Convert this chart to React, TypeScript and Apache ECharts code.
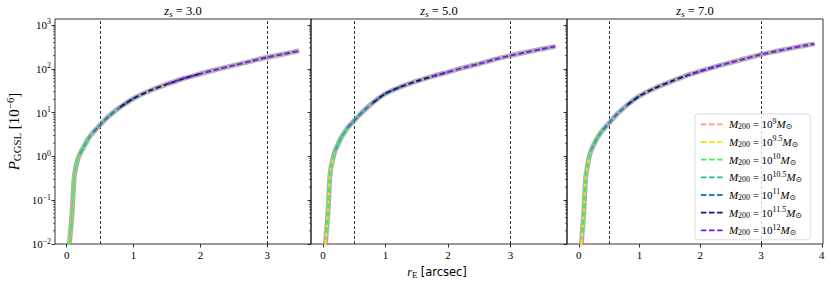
import React, { useEffect, useRef } from "react";
import * as echarts from "echarts";

// ---------- data ----------
const panelZs = ["3.0", "5.0", "7.0"];
const massExps = ["9", "9.5", "10", "10.5", "11", "11.5", "12"];
const massColors = ["#ff9a7a", "#ffe21a", "#33f54a", "#1fbf8c", "#2a7dbd", "#14147f", "#7e12ee"];

// P_GGSL [1e-6] vs r_E [arcsec]
const r1 = [0.04, 0.055, 0.065, 0.08, 0.09, 0.11, 0.13, 0.165, 0.2, 0.25, 0.3, 0.35, 0.4, 0.5, 0.6, 0.7, 0.8, 1.0, 1.25, 1.5, 1.75, 2.0, 2.25, 2.5, 2.75, 3.0, 3.25, 3.48];
const p1 = [0.0095, 0.018, 0.026, 0.05, 0.09, 0.3, 0.5, 0.85, 1.15, 1.6, 2.2, 2.9, 3.6, 5.2, 7.5, 10.2, 13.3, 21, 32, 44.5, 60, 77, 97, 120, 148, 183, 218, 258];
const r2 = [0.04, 0.055, 0.065, 0.08, 0.09, 0.11, 0.13, 0.165, 0.2, 0.25, 0.3, 0.35, 0.4, 0.5, 0.6, 0.7, 0.8, 1.0, 1.25, 1.5, 1.75, 2.0, 2.25, 2.5, 2.75, 3.0, 3.25, 3.5, 3.72];
const p2 = [0.0095, 0.018, 0.026, 0.05, 0.09, 0.32, 0.55, 0.95, 1.4, 2.0, 2.8, 3.6, 4.6, 6.5, 9.3, 12.7, 16.8, 27, 39, 52, 67, 84, 106, 130, 164, 200, 238, 282, 325];
const r3 = [0.04, 0.055, 0.065, 0.08, 0.09, 0.11, 0.13, 0.165, 0.2, 0.25, 0.3, 0.35, 0.4, 0.5, 0.6, 0.7, 0.8, 1.0, 1.25, 1.5, 1.75, 2.0, 2.25, 2.5, 2.75, 3.0, 3.25, 3.5, 3.75, 3.88];
const p3 = [0.0095, 0.018, 0.026, 0.05, 0.09, 0.3, 0.48, 0.9, 1.35, 1.9, 2.6, 3.3, 4.1, 5.8, 8.4, 11.4, 15, 24, 36, 50, 68, 88, 112, 139, 172, 212, 252, 297, 345, 370];

// r_E range covered by each halo-mass curve, per panel
const segStart1 = [0.04, 0.04, 0.04, 0.2, 0.4, 0.8, 1.5];
const segEnd1 = [0.09, 0.13, 0.35, 0.7, 1.0, 2.0, 3.48];
const segStart2 = [0.04, 0.04, 0.055, 0.2, 0.4, 0.8, 1.75];
const segEnd2 = [0.09, 0.165, 0.4, 0.7, 1.25, 2.0, 3.72];
const segStart3 = [0.04, 0.04, 0.055, 0.2, 0.4, 0.8, 1.75];
const segEnd3 = [0.09, 0.165, 0.4, 0.7, 1.0, 2.25, 3.88];

const xMins = [-0.175, -0.19, -0.195];
const xMaxs = [3.655, 3.905, 4.02];
const xTicks1 = [0, 1, 2, 3];
const xTicks2 = [0, 1, 2, 3];
const xTicks3 = [0, 1, 2, 3, 4];
const yTicks = [0.01, 0.1, 1, 10, 100, 1000];
const yMin = 0.01;
const yMax = 1370;
const minorMultipliers = [2, 3, 4, 5, 6, 7, 8, 9];
const refLines = [0.5, 3.0];

// ---------- layout ----------
const gridLefts = [55, 311, 567];
const gridWidth = 256;
const gridTop = 19;
const gridHeight = 225;

const serif = "'Liberation Serif', 'DejaVu Serif', serif";
const sans = "'DejaVu Sans', sans-serif";

export default function App() {
  const ref = useRef<HTMLDivElement>(null);

  useEffect(() => {
    if (!ref.current) return;
    const chart = echarts.init(ref.current, undefined, { renderer: "svg" });

    const panels = [
      { r: r1, p: p1, s: segStart1, e: segEnd1, ticks: xTicks1 },
      { r: r2, p: p2, s: segStart2, e: segEnd2, ticks: xTicks2 },
      { r: r3, p: p3, s: segStart3, e: segEnd3, ticks: xTicks3 },
    ];
    const massNames = massExps.map((m) => "M200=1e" + m);

    const minorVals: number[] = [];
    yTicks.forEach((d) => {
      minorMultipliers.forEach((m) => {
        const v = d * m;
        if (v > yMin && v < yMax) minorVals.push(v);
      });
    });

    const grids = panels.map((_, i) => ({
      left: gridLefts[i],
      top: gridTop,
      width: gridWidth,
      height: gridHeight,
      show: true,
      borderColor: "#000",
      borderWidth: 0.8,
      backgroundColor: "transparent",
    }));

    const xAxes = panels.map((pan, i) => ({
      type: "value",
      gridIndex: i,
      min: xMins[i],
      max: xMaxs[i],
      axisLine: { show: false, onZero: false },
      splitLine: { show: false },
      axisTick: { show: true, customValues: pan.ticks, length: 3.5, lineStyle: { color: "#000", width: 0.8 } },
      axisLabel: {
        show: true,
        customValues: pan.ticks,
        margin: 5,
        color: "#000",
        fontFamily: serif,
        fontSize: 11,
      },
    }));

    const yRich = {
      b: { fontFamily: serif, fontSize: 11, color: "#000" },
      sup: { fontFamily: serif, fontSize: 7.8, color: "#000", padding: [0, 0, 6, 0] },
    };
    const yAxes = panels.map((_, i) => ({
      type: "log",
      logBase: 10,
      gridIndex: i,
      min: yMin,
      max: yMax,
      axisLine: { show: false, onZero: false },
      splitLine: { show: false },
      minorTick: { show: false },
      axisTick: { show: true, customValues: yTicks, length: 3.5, lineStyle: { color: "#000", width: 0.8 } },
      axisLabel: {
        show: i === 0,
        customValues: yTicks,
        margin: 4,
        formatter: (v: number) => {
          const ex = Math.round(Math.log10(v));
          return "{b|10}{sup|" + String(ex).replace("-", "\u2212") + "}";
        },
        rich: yRich,
      },
    }));

    const series: any[] = [];
    panels.forEach((pan, i) => {
      const pts = pan.r.map((r, k) => [r, pan.p[k]]);
      series.push({
        type: "line",
        name: "fit" + i,
        xAxisIndex: i,
        yAxisIndex: i,
        data: pts,
        symbol: "none",
        smooth: 0.3,
        silent: true,
        z: 2,
        lineStyle: { color: "rgba(150,150,150,0.75)", width: 5 },
        markLine: {
          silent: true,
          symbol: ["none", "none"],
          label: { show: false },
          z: 1,
          lineStyle: { color: "#000", type: [3, 2], width: 0.8 },
          data: refLines.map((x) => ({ xAxis: x })),
        },
      });
      massNames.forEach((nm, j) => {
        series.push({
          type: "line",
          name: nm,
          xAxisIndex: i,
          yAxisIndex: i,
          data: pts.filter((d) => d[0] >= pan.s[j] && d[0] <= pan.e[j]),
          symbol: "none",
          smooth: 0.3,
          z: 3 + j,
          lineStyle: { color: massColors[j], width: 1.9, type: [5.5, 2.6] },
          itemStyle: { color: massColors[j] },
        });
      });
      // minor log ticks on the left spine
      const xm = xMins[i];
      series.push({
        type: "custom",
        xAxisIndex: i,
        yAxisIndex: i,
        silent: true,
        clip: false,
        z: 10,
        data: minorVals.map((v) => [xm, v]),
        renderItem: (params: any, api: any) => {
          const pt = api.coord([xm, api.value(1)]);
          return {
            type: "line",
            shape: { x1: pt[0] - 2, y1: pt[1], x2: pt[0], y2: pt[1] },
            style: { stroke: "#000", lineWidth: 0.6 },
          };
        },
      });
    });

    const mathRich = (size: number) => ({
      i: { fontFamily: serif, fontStyle: "italic", fontSize: size, color: "#000" },
      n: { fontFamily: serif, fontSize: size, color: "#000" },
      sub: { fontFamily: serif, fontSize: size * 0.72, color: "#000", padding: [size * 0.45, 0, 0, 0] },
      subi: { fontFamily: serif, fontStyle: "italic", fontSize: size * 0.72, color: "#000", padding: [size * 0.45, 0, 0, 0] },
      sup: { fontFamily: serif, fontSize: size * 0.72, color: "#000", padding: [0, 0, size * 0.6, 0] },
      sans: { fontFamily: sans, fontSize: size * 0.92, color: "#000" },
    });

    const graphic: any[] = [];
    panelZs.forEach((z, i) => {
      graphic.push({
        type: "text",
        x: gridLefts[i] + gridWidth / 2,
        y: 11,
        style: {
          text: "{i|z}{subi|s}{n| = " + z + "}",
          rich: mathRich(12.5),
          align: "center",
          verticalAlign: "middle",
          textAlign: "center",
          textVerticalAlign: "middle",
        },
      });
    });
    graphic.push({
      type: "text",
      x: 14,
      y: gridTop + gridHeight / 2,
      rotation: Math.PI / 2,
      style: {
        text: "{i|P}{sub|GGSL}{n| [10}{sup|\u22126}{n|]}",
        rich: mathRich(15),
        align: "center",
        verticalAlign: "middle",
        textAlign: "center",
        textVerticalAlign: "middle",
      },
    });
    graphic.push({
      type: "text",
      x: 437,
      y: 272,
      style: {
        text: "{i|r}{sub|E}{n| }{sans|[arcsec]}",
        rich: mathRich(12.5),
        align: "center",
        verticalAlign: "middle",
        textAlign: "center",
        textVerticalAlign: "middle",
      },
    });

    const legRich = mathRich(11);

    chart.setOption({
      animation: false,
      backgroundColor: "#fff",
      grid: grids,
      xAxis: xAxes,
      yAxis: yAxes,
      series,
      graphic,
      legend: {
        data: massNames,
        orient: "vertical",
        left: 695,
        top: 114,
        itemWidth: 23,
        itemHeight: 12,
        itemGap: 3.9,
        padding: [3, 8, 3, 5],
        selectedMode: false,
        itemStyle: { opacity: 0 },
        lineStyle: { width: 1.8 },
        backgroundColor: "rgba(255,255,255,0.8)",
        borderColor: "#d3d3d3",
        borderWidth: 0.8,
        borderRadius: 3,
        textStyle: { fontFamily: serif, fontSize: 11, color: "#000", rich: legRich },
        formatter: (name: string) => {
          const j = massNames.indexOf(name);
          return "{i|M}{sub|200}{n| = 10}{sup|" + massExps[j] + "}{i|M}{sub|\u2299}";
        },
      },
    });

    return () => chart.dispose();
  }, []);

  return <div ref={ref} style={{ width: 831, height: 285, position: "absolute", left: 0, top: 0 }} />;
}
